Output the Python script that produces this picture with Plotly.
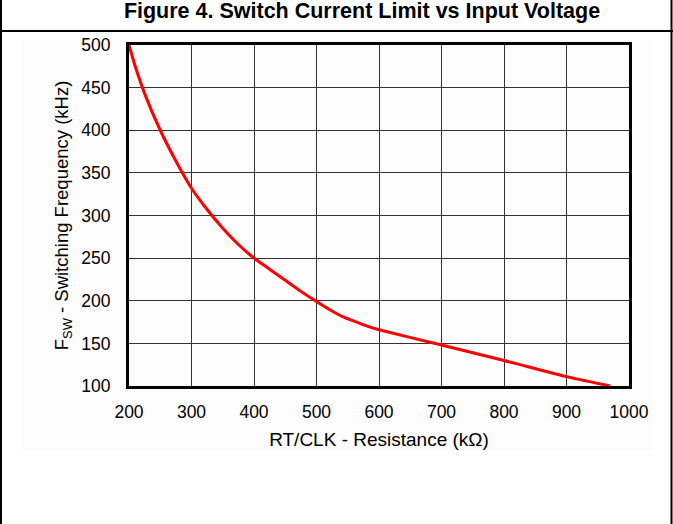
import plotly.graph_objects as go

# Data
resistance_kohm = [200, 210, 225, 250, 275, 300, 325, 350, 375, 400, 425, 450, 475, 500, 520, 540, 560, 580, 600, 700, 800, 900, 970]
fsw_khz = [500, 475, 443, 400, 364, 332, 307, 285, 266, 250, 237, 224, 211, 199, 190, 182, 176, 170.5, 166, 148, 130, 111, 100]

x_ticks = [200, 300, 400, 500, 600, 700, 800, 900, 1000]
y_ticks = [100, 150, 200, 250, 300, 350, 400, 450, 500]

W, H = 673, 524
L, R, T, B = 129, 44, 45, 138

fig = go.Figure()
fig.add_trace(go.Scatter(
    x=resistance_kohm, y=fsw_khz, mode="lines",
    line=dict(color="#ff0000", width=3, shape="spline", smoothing=0.5),
    showlegend=False, hoverinfo="skip", cliponaxis=True,
))

font_family = "Liberation Sans, Arial, sans-serif"

fig.update_layout(
    width=W, height=H, autosize=False,
    margin=dict(l=L, r=R, t=T, b=B, pad=0),
    paper_bgcolor="white", plot_bgcolor="white",
    font=dict(family=font_family, color="black", size=17),
    title=dict(
        text="<b>Figure 4. Switch Current Limit vs Input Voltage</b>",
        x=362 / W, xanchor="center", xref="container",
        y=1 - 10 / H, yanchor="middle", yref="container",
        font=dict(family=font_family, size=21.5, color="black"),
    ),
    xaxis=dict(
        range=[200, 1000], tickvals=x_ticks, ticktext=[str(v) for v in x_ticks],
        showgrid=True, gridcolor="#333333", gridwidth=1,
        showline=True, linecolor="black", linewidth=3, mirror=True,
        ticks="", ticklabelstandoff=8, zeroline=False,
        tickfont=dict(size=17.5),
        title=dict(text="RT/CLK - Resistance (kΩ)", font=dict(size=19), standoff=12),
    ),
    yaxis=dict(
        range=[100, 500], tickvals=y_ticks, ticktext=[str(v) for v in y_ticks],
        showgrid=True, gridcolor="#333333", gridwidth=1,
        showline=True, linecolor="black", linewidth=3, mirror=True,
        ticks="", ticklabelstandoff=12, zeroline=False,
        tickfont=dict(size=17.5),
        title=dict(text="F<sub>SW</sub> - Switching Frequency (kHz)", font=dict(size=18.5), standoff=8),
    ),
    shapes=[
        dict(type="rect", xref="paper", yref="paper",
             x0=(22 - L) / (W - L - R), x1=(652 - L) / (W - L - R),
             y0=(H - B - 450) / (H - T - B), y1=(H - B - 40) / (H - T - B),
             fillcolor="#fcfcfc", line=dict(width=0), layer="below"),
        dict(type="line", xref="paper", yref="paper",
             x0=-L / (W - L - R), x1=(W - L) / (W - L - R),
             y0=(H - B - 31) / (H - T - B), y1=(H - B - 31) / (H - T - B),
             line=dict(color="black", width=2)),
        dict(type="line", xref="paper", yref="paper",
             x0=(-L + 1) / (W - L - R), x1=(-L + 1) / (W - L - R),
             y0=-B / (H - T - B), y1=(H - B) / (H - T - B),
             line=dict(color="black", width=2)),
        dict(type="line", xref="paper", yref="paper",
             x0=(W - L - 1.5) / (W - L - R), x1=(W - L - 1.5) / (W - L - R),
             y0=-B / (H - T - B), y1=(H - B) / (H - T - B),
             line=dict(color="black", width=2)),
    ],
)

fig.write_html(
    "out.html",
    config={"displayModeBar": False},
    post_script="document.body.style.margin='0';document.body.style.padding='0';",
)
